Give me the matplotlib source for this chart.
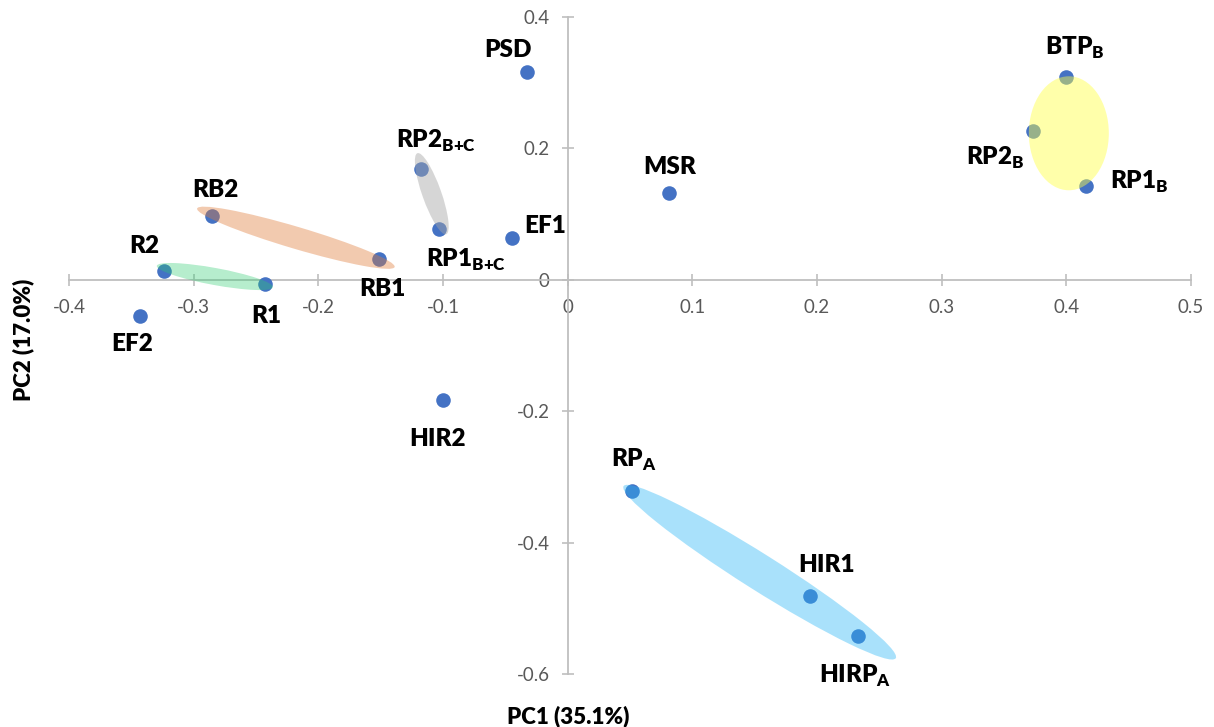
import matplotlib
matplotlib.use("Agg")
import matplotlib.pyplot as plt
from matplotlib.patches import Ellipse
from matplotlib.transforms import ScaledTranslation

# ---------------- data ----------------
labels = ["PSD", r"BTP$_\mathregular{B}$", r"RP2$_\mathregular{B}$", r"RP1$_\mathregular{B}$", "MSR",
          r"RP2$_\mathregular{B{+}C}$", r"RP1$_\mathregular{B{+}C}$", "EF1", "RB2", "RB1", "R2", "R1",
          "EF2", "HIR2", r"RP$_\mathregular{A}$", "HIR1", r"HIRP$_\mathregular{A}$"]
pc1 = [-0.033, 0.400, 0.373, 0.416, 0.081, -0.118, -0.103, -0.045, -0.285, -0.151, -0.324, -0.243,
       -0.343, -0.100, 0.052, 0.194, 0.233]
pc2 = [0.316, 0.309, 0.226, 0.143, 0.132, 0.169, 0.077, 0.063, 0.097, 0.032, 0.013, -0.006,
       -0.055, -0.183, -0.321, -0.481, -0.542]
# label offsets (points): dx, dy of text baseline centre relative to marker
label_dx = [-13, 6, -27, 38, 1, 11, 19, 24, 2, 2, -14, 1, -6, -4, 1, 12, -2]
label_dy = [11, 16, -24, -2, 14, 15, -27, 4, 14, -27, 13, -28, -25, -33, 17, 17, -34]

xticks = [-0.4, -0.3, -0.2, -0.1, 0, 0.1, 0.2, 0.3, 0.4, 0.5]
xtick_labels = ["-0.4", "-0.3", "-0.2", "-0.1", "0", "0.1", "0.2", "0.3", "0.4", "0.5"]
yticks = [-0.6, -0.4, -0.2, 0, 0.2, 0.4]
ytick_labels = ["-0.6", "-0.4", "-0.2", "0", "0.2", "0.4"]

# group ellipses: centre (data), width/height (pixels), angle (deg), colour, alpha
ell_cx = [0.402, 0.154, -0.218, -0.283, -0.109]
ell_cy = [0.223, -0.445, 0.064, 0.005, 0.131]
ell_w = [80, 322, 206, 118, 86]
ell_h = [114, 36, 22, 17, 19]
ell_ang = [0, -32.3, -16.5, -10.4, -70.5]
ell_col = ["#ffff44", "#29b6f6", "#e07b39", "#2ecc71", "#a6a6a6"]
ell_alpha = [0.45, 0.40, 0.40, 0.35, 0.45]

# ---------------- figure ----------------
W, H = 1214, 727
fig = plt.figure(figsize=(W / 100, H / 100), dpi=100)
x_left, x_right, y_top, y_bot = 69, 1191, 17, 674
ax = fig.add_axes([x_left / W, 1 - y_bot / H, (x_right - x_left) / W, (y_bot - y_top) / H])
ax.set_xlim(-0.4, 0.5)
ax.set_ylim(-0.6, 0.4)

for s in ["top", "right"]:
    ax.spines[s].set_visible(False)
for s in ["left", "bottom"]:
    ax.spines[s].set_position(("data", 0))
    ax.spines[s].set_color("#bfbfbf")
    ax.spines[s].set_linewidth(1.3)

ax.set_xticks(xticks)
ax.set_xticklabels(xtick_labels)
ax.set_yticks(yticks)
ax.set_yticklabels(ytick_labels)
ax.tick_params(axis="both", direction="inout", length=8, width=1.2, color="#bfbfbf",
               labelcolor="#595959", labelsize=13.5)
ax.tick_params(axis="x", pad=10)
ax.tick_params(axis="y", pad=9)
for t in ax.get_xticklabels() + ax.get_yticklabels():
    t.set_fontfamily("Lato")

ax.scatter(pc1, pc2, s=110, color="#4472c4", zorder=3, linewidths=0)

for cx, cy, w, h, a, c, al in zip(ell_cx, ell_cy, ell_w, ell_h, ell_ang, ell_col, ell_alpha):
    tr = fig.dpi_scale_trans + ScaledTranslation(cx, cy, ax.transData)
    e = Ellipse((0, 0), w / 100, h / 100, angle=a, transform=tr, facecolor=c, alpha=al,
                edgecolor="none", zorder=4)
    ax.add_patch(e)

for lab, x, y, dx, dy in zip(labels, pc1, pc2, label_dx, label_dy):
    ax.annotate(lab, (x, y), xytext=(dx, dy), textcoords="offset points", ha="center",
                va="baseline", fontsize=17.5, fontweight="heavy", fontfamily="Lato",
                color="black", zorder=5, annotation_clip=False)

fig.text(568 / W, 1 - 716 / H, "PC1 (35.1%)", ha="center", va="center", fontsize=16,
         fontweight="heavy", fontfamily="Lato")
fig.text(23 / W, 1 - 340 / H, "PC2 (17.0%)", ha="center", va="center", rotation=90,
         fontsize=16, fontweight="heavy", fontfamily="Lato")

fig.savefig("out.png", dpi=100)
